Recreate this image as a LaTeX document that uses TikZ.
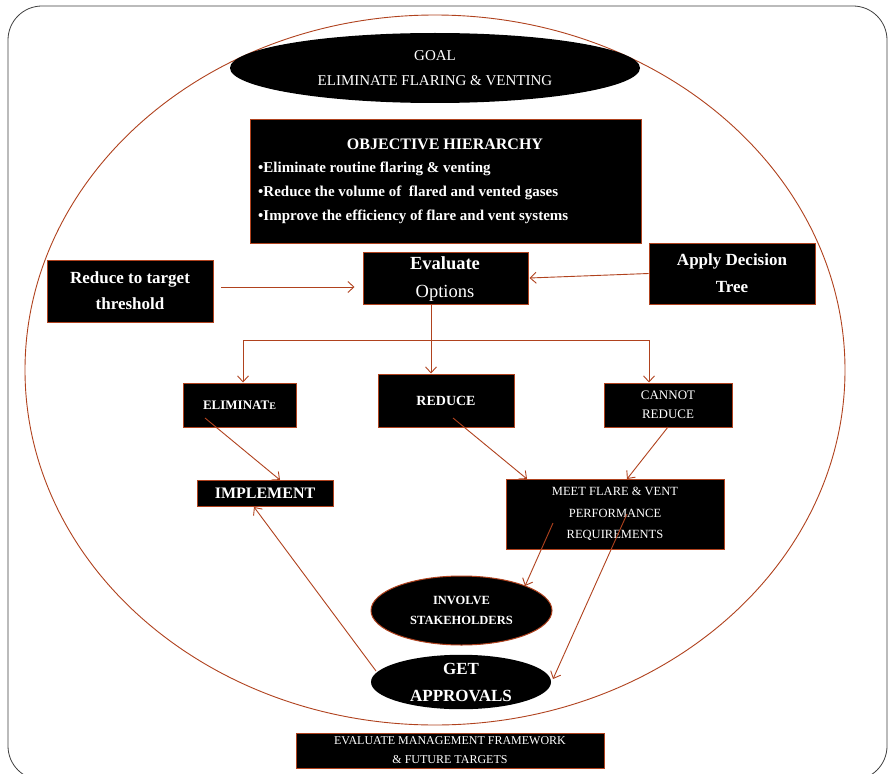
\documentclass[tikz,border=0pt]{standalone}
\usepackage{fontspec}
\setmainfont{Liberation Serif}
\usetikzlibrary{arrows.meta,shapes.geometric}
\definecolor{brd}{HTML}{B0421E}
\newcommand{\fs}[2]{\fontsize{#1}{#2}\selectfont}
\begin{document}
\begin{tikzpicture}[x=1pt,y=-1pt,
  box/.style={draw=brd, fill=black, text=white, line width=1pt, inner sep=0pt, align=center},
  oval/.style={ellipse, fill=black, text=white, inner sep=0pt, align=center},
  conn/.style={draw=brd, line width=0.9pt, -{Straight Barb[length=6pt,width=11pt]}},
  plain/.style={draw=brd, line width=0.9pt}]
\useasboundingbox (0,0) rectangle (888,773);
\fill[white] (0,0) rectangle (888,773);
% frame
\draw[line width=0.8pt, draw=black!75, rounded corners=34pt] (8,6) rectangle (887,780);
% big ellipse
\draw[brd, line width=0.9pt] (435,370) ellipse [x radius=410, y radius=355];
% goal
\node[oval, minimum width=410pt, minimum height=70pt, font=\fs{15}{25}] (goal) at (435,68) {GOAL\\ELIMINATE FLARING \& VENTING};
% objective hierarchy
\node[box, minimum width=391pt, minimum height=123pt] (obj) at (445.5,181.5) {};
\node[text=white, inner sep=0pt, font=\fs{16}{20}\bfseries] (objt) at (445,144) {OBJECTIVE HIERARCHY};
\node[text=white, inner sep=0pt, anchor=north west, align=left, font=\fs{15}{24}\bfseries] (objb) at (258,162)
  {•Eliminate routine flaring \& venting\\•Reduce the volume of \ flared and vented gases\\•Improve the efficiency of flare and vent systems};
% evaluate
\node[box, minimum width=165pt, minimum height=52pt] (eval) at (445.5,278) {};
\node[text=white, inner sep=0pt, font=\fs{18.5}{20}\bfseries] (evt) at (445,263) {Evaluate};
\node[text=white, inner sep=0pt, font=\fs{18.5}{20}] (evo) at (445,293) {Options};
% threshold
\node[box, minimum width=166pt, minimum height=62pt, font=\fs{17}{26}\bfseries] (thr) at (130,291) {Reduce to target\\threshold};
% apply
\node[box, minimum width=166pt, minimum height=61pt, font=\fs{17}{27}\bfseries] (apply) at (732,273.5) {Apply Decision\\Tree};
% level 2
\node[box, minimum width=113pt, minimum height=44pt, font=\fs{13}{16}\bfseries] (elim) at (239.5,405) {ELIMINAT{\fs{10}{12}E}};
\node[box, minimum width=136pt, minimum height=53pt, font=\fs{14}{16}\bfseries] (red) at (446,400.5) {REDUCE};
\node[box, minimum width=128pt, minimum height=44pt, font=\fs{13}{19}] (cann) at (668,405) {CANNOT\\REDUCE};
% level 3
\node[box, minimum width=136pt, minimum height=26pt, font=\fs{16}{18}\bfseries] (impl) at (265,493) {IMPLEMENT};
\node[box, minimum width=218pt, minimum height=70pt, font=\fs{12.5}{21.5}] (meet) at (615,514) {MEET FLARE \& VENT\\PERFORMANCE\\REQUIREMENTS};
% ovals
\node[oval, draw=brd, line width=1pt, minimum width=181pt, minimum height=69pt, font=\fs{12.5}{20}\bfseries] (inv) at (461.5,610.5) {INVOLVE\\STAKEHOLDERS};
\node[oval, minimum width=180pt, minimum height=51pt, font=\fs{17}{27}\bfseries] (appr) at (461,682) {GET\\APPROVALS};
% bottom box
\node[box, minimum width=308pt, minimum height=35pt, font=\fs{12}{19}] (fw) at (450,750.5) {EVALUATE MANAGEMENT FRAMEWORK\\\& FUTURE TARGETS};
% coordinates
\coordinate (ta) at (221,287);
\coordinate (split) at (431,340);
\coordinate (sl) at (243,340);
\coordinate (sr) at (649,340);
\coordinate (es) at (205,418);
\coordinate (it) at (280,480);
\coordinate (rs) at (453,418);
\coordinate (mt1) at (527,479);
\coordinate (cs) at (668,427);
\coordinate (mt2) at (627,479);
\coordinate (m1) at (553,523);
\coordinate (ivt) at (525,586);
\coordinate (m2) at (627,514);
\coordinate (apr) at (553,679);
\coordinate (apl) at (376,671);
\coordinate (ib) at (254,507);
% connectors
\draw[conn, shorten >=8pt] (ta) -- (ta -| eval.west);
\draw[conn] (apply.west) -- ([xshift=1pt]eval.east);
\draw[conn] (eval.south -| split) -- (red.north -| split);
\draw[plain] (sl) -- (sr);
\draw[conn] (sl) -- (elim.north -| sl);
\draw[conn] (sr) -- (cann.north -| sr);
\draw[conn] (es) -- (it);
\draw[conn] (rs) -- (mt1);
\draw[conn] (cs) -- (mt2);
\draw[conn] (m1) -- (ivt);
\draw[conn] (m2) -- (apr);
\draw[conn] (apl) -- (ib);
\end{tikzpicture}
\end{document}
